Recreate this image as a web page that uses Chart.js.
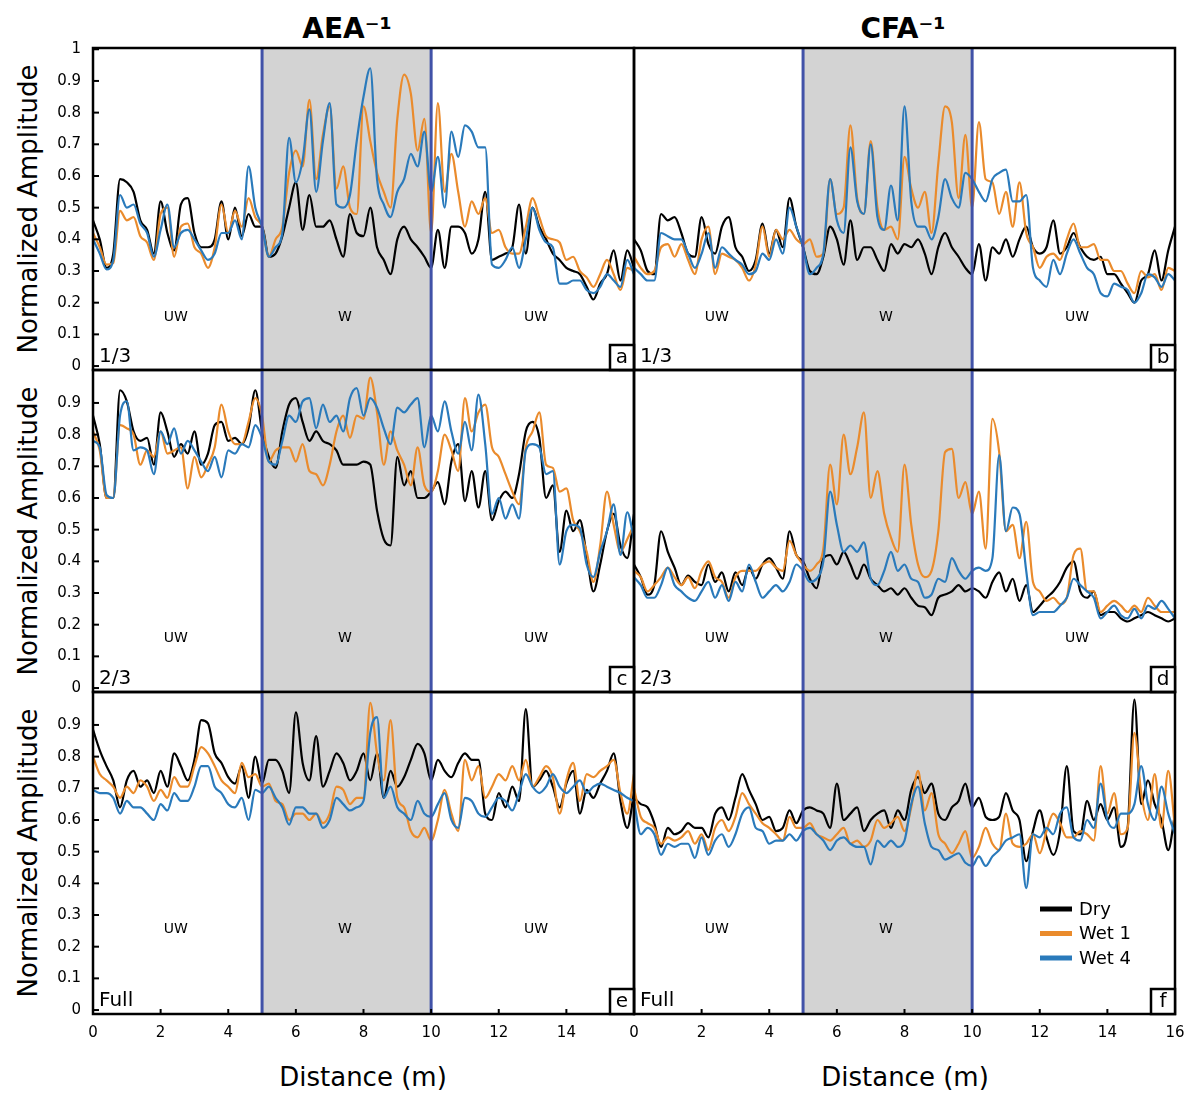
<!DOCTYPE html>
<html><head><meta charset="utf-8">
<script src="https://cdn.jsdelivr.net/npm/chart.js@4.4.1/dist/chart.umd.min.js"></script>
<style>
body{margin:0;background:#fff;width:1195px;height:1094px;position:relative;overflow:hidden;font-family:'DejaVu Sans',Verdana,sans-serif;}
canvas{position:absolute;}
.t{position:absolute;white-space:nowrap;color:#000;transform:translate(-50%,-50%);}
.r{transform:translate(-50%,-50%) rotate(-90deg);}
</style></head><body>
<div class="t" style="left:347px;top:28px;font-size:28px;font-weight:bold;">AEA⁻¹</div>
<div class="t" style="left:903px;top:28px;font-size:28px;font-weight:bold;">CFA⁻¹</div>
<div class="t" style="left:363px;top:1077px;font-size:26px;">Distance (m)</div>
<div class="t" style="left:905px;top:1077px;font-size:26px;">Distance (m)</div>
<div class="t r" style="left:28px;top:209px;font-size:26px;">Normalized Amplitude</div>
<div class="t r" style="left:28px;top:531px;font-size:26px;">Normalized Amplitude</div>
<div class="t r" style="left:28px;top:853px;font-size:26px;">Normalized Amplitude</div>
<canvas id="pa"></canvas><canvas id="pb"></canvas>
<canvas id="pc"></canvas><canvas id="pd"></canvas>
<canvas id="pe"></canvas><canvas id="pf"></canvas>
<script>
// ---------- data ----------
const distance = [0,0.2,0.4,0.6,0.8,1,1.2,1.4,1.6,1.8,2,2.2,2.4,2.6,2.8,3,3.2,3.4,3.6,3.8,4,4.2,4.4,4.6,4.8,5,5.2,5.4,5.6,5.8,6,6.2,6.4,6.6,6.8,7,7.2,7.4,7.6,7.8,8,8.2,8.4,8.6,8.8,9,9.2,9.4,9.6,9.8,10,10.2,10.4,10.6,10.8,11,11.2,11.4,11.6,11.8,12,12.2,12.4,12.6,12.8,13,13.2,13.4,13.6,13.8,14,14.2,14.4,14.6,14.8,15,15.2,15.4,15.6,15.8,16];
const seriesNames = ['Dry','Wet 1','Wet 4'];
const columnTitles = ['AEA⁻¹','CFA⁻¹'];
const rowLabels = ['1/3','2/3','Full'];
const panelLetters = ['a','b','c','d','e','f'];
const weightedZone = [5,10];
const zoneLabels = ['UW','W','UW'];
const zoneCenters = [2.45,7.45,13.1];
const xTicksLeft = [0,2,4,6,8,10,12,14];
const xTicksRight = [0,2,4,6,8,10,12,14,16];
const yTicksTop = [0,0.1,0.2,0.3,0.4,0.5,0.6,0.7,0.8,0.9,1];
const yTicksLower = [0,0.1,0.2,0.3,0.4,0.5,0.6,0.7,0.8,0.9];

const aeaThirdDry = [0.46,0.40,0.31,0.355,0.59,0.58,0.55,0.46,0.43,0.355,0.52,0.42,0.365,0.51,0.53,0.42,0.375,0.375,0.40,0.52,0.40,0.50,0.41,0.48,0.44,0.44,0.345,0.355,0.41,0.50,0.58,0.43,0.54,0.44,0.44,0.46,0.40,0.345,0.48,0.42,0.41,0.50,0.375,0.335,0.29,0.40,0.44,0.40,0.375,0.345,0.31,0.43,0.31,0.44,0.44,0.42,0.355,0.40,0.55,0.335,0.345,0.355,0.375,0.51,0.355,0.50,0.44,0.40,0.355,0.335,0.31,0.30,0.29,0.25,0.21,0.26,0.29,0.365,0.27,0.365,0.31];
const aeaThirdWet1 = [0.42,0.375,0.32,0.325,0.49,0.46,0.47,0.41,0.39,0.335,0.48,0.50,0.345,0.44,0.45,0.375,0.355,0.31,0.375,0.51,0.42,0.49,0.44,0.53,0.47,0.44,0.345,0.40,0.44,0.61,0.68,0.63,0.84,0.59,0.73,0.82,0.56,0.63,0.50,0.48,0.82,0.71,0.61,0.55,0.50,0.78,0.92,0.86,0.68,0.78,0.42,0.83,0.55,0.67,0.55,0.44,0.52,0.48,0.53,0.42,0.43,0.375,0.355,0.355,0.44,0.53,0.47,0.41,0.40,0.39,0.335,0.345,0.30,0.28,0.25,0.29,0.335,0.29,0.24,0.31,0.30];
const aeaThirdWet4 = [0.40,0.355,0.305,0.335,0.54,0.50,0.51,0.45,0.42,0.345,0.43,0.51,0.375,0.42,0.43,0.40,0.365,0.335,0.355,0.42,0.42,0.46,0.40,0.63,0.50,0.44,0.345,0.375,0.42,0.72,0.58,0.65,0.81,0.55,0.71,0.83,0.51,0.50,0.54,0.71,0.85,0.94,0.59,0.51,0.47,0.55,0.59,0.67,0.63,0.74,0.55,0.66,0.50,0.74,0.66,0.76,0.74,0.69,0.69,0.32,0.31,0.335,0.375,0.31,0.40,0.50,0.43,0.39,0.375,0.26,0.26,0.27,0.27,0.24,0.23,0.25,0.29,0.27,0.25,0.335,0.29];

const cfaThirdDry = [0.40,0.365,0.30,0.29,0.48,0.46,0.47,0.42,0.355,0.345,0.47,0.385,0.355,0.44,0.47,0.375,0.345,0.30,0.335,0.45,0.355,0.43,0.375,0.53,0.44,0.375,0.30,0.29,0.345,0.44,0.40,0.32,0.46,0.335,0.375,0.375,0.335,0.30,0.385,0.355,0.385,0.375,0.40,0.355,0.29,0.375,0.42,0.375,0.345,0.31,0.29,0.385,0.27,0.375,0.355,0.40,0.345,0.40,0.44,0.375,0.355,0.375,0.46,0.355,0.375,0.42,0.375,0.345,0.335,0.345,0.29,0.29,0.26,0.23,0.20,0.27,0.29,0.365,0.27,0.365,0.44];
const cfaThirdWet1 = [0.345,0.31,0.29,0.30,0.375,0.385,0.345,0.385,0.335,0.29,0.40,0.44,0.29,0.355,0.345,0.335,0.31,0.27,0.32,0.44,0.345,0.43,0.40,0.43,0.40,0.385,0.40,0.345,0.355,0.59,0.48,0.50,0.76,0.53,0.48,0.71,0.50,0.43,0.44,0.40,0.66,0.56,0.50,0.55,0.42,0.64,0.82,0.77,0.53,0.73,0.50,0.77,0.59,0.58,0.48,0.55,0.44,0.58,0.42,0.375,0.31,0.345,0.355,0.335,0.40,0.45,0.375,0.375,0.385,0.335,0.335,0.30,0.30,0.26,0.23,0.30,0.28,0.29,0.24,0.31,0.30];
const cfaThirdWet4 = [0.31,0.29,0.27,0.27,0.42,0.41,0.40,0.40,0.355,0.31,0.355,0.42,0.31,0.375,0.355,0.335,0.32,0.29,0.30,0.355,0.335,0.40,0.355,0.50,0.44,0.375,0.29,0.31,0.355,0.59,0.46,0.42,0.69,0.52,0.48,0.70,0.47,0.43,0.57,0.46,0.82,0.52,0.44,0.44,0.40,0.47,0.59,0.53,0.50,0.61,0.59,0.55,0.52,0.59,0.61,0.62,0.52,0.52,0.54,0.31,0.27,0.25,0.335,0.29,0.355,0.40,0.355,0.31,0.29,0.23,0.22,0.26,0.25,0.24,0.20,0.23,0.29,0.28,0.25,0.29,0.27];

const aeaTwoThirdsDry = [0.86,0.77,0.60,0.60,0.94,0.905,0.81,0.78,0.79,0.705,0.87,0.81,0.73,0.77,0.74,0.81,0.705,0.74,0.83,0.84,0.78,0.79,0.77,0.82,0.94,0.81,0.73,0.695,0.81,0.895,0.915,0.84,0.78,0.81,0.78,0.77,0.75,0.705,0.705,0.705,0.715,0.705,0.56,0.47,0.45,0.73,0.64,0.685,0.60,0.60,0.62,0.65,0.58,0.715,0.77,0.59,0.685,0.57,0.685,0.53,0.59,0.62,0.60,0.675,0.81,0.84,0.79,0.60,0.64,0.43,0.56,0.495,0.53,0.42,0.305,0.39,0.495,0.55,0.45,0.41,0.55];
const aeaTwoThirdsWet1 = [0.81,0.75,0.60,0.60,0.83,0.82,0.80,0.705,0.75,0.73,0.81,0.74,0.75,0.76,0.63,0.73,0.665,0.705,0.76,0.895,0.81,0.77,0.77,0.84,0.915,0.86,0.715,0.75,0.76,0.76,0.715,0.77,0.685,0.675,0.64,0.705,0.81,0.86,0.79,0.86,0.85,0.98,0.87,0.705,0.81,0.75,0.705,0.64,0.76,0.64,0.62,0.685,0.80,0.75,0.685,0.915,0.81,0.87,0.895,0.76,0.73,0.675,0.62,0.58,0.76,0.81,0.87,0.705,0.695,0.62,0.63,0.53,0.495,0.43,0.335,0.45,0.62,0.515,0.43,0.47,0.515];
const aeaTwoThirdsWet4 = [0.78,0.76,0.61,0.60,0.86,0.905,0.75,0.76,0.75,0.675,0.81,0.77,0.82,0.74,0.78,0.75,0.715,0.685,0.73,0.665,0.75,0.74,0.77,0.76,0.83,0.79,0.715,0.705,0.78,0.86,0.84,0.905,0.915,0.82,0.895,0.84,0.86,0.81,0.915,0.947,0.86,0.915,0.885,0.82,0.77,0.885,0.87,0.895,0.915,0.76,0.86,0.81,0.905,0.81,0.74,0.84,0.75,0.926,0.77,0.55,0.60,0.535,0.58,0.535,0.75,0.77,0.76,0.675,0.685,0.39,0.495,0.515,0.505,0.39,0.35,0.43,0.495,0.58,0.42,0.555,0.47];

const cfaTwoThirdsDry = [0.39,0.35,0.295,0.325,0.495,0.43,0.38,0.325,0.355,0.335,0.325,0.39,0.335,0.365,0.305,0.365,0.325,0.38,0.345,0.39,0.41,0.38,0.345,0.495,0.42,0.40,0.345,0.315,0.41,0.42,0.39,0.43,0.39,0.345,0.39,0.345,0.325,0.305,0.315,0.295,0.315,0.285,0.26,0.255,0.23,0.285,0.295,0.305,0.325,0.305,0.315,0.305,0.285,0.335,0.365,0.305,0.345,0.275,0.325,0.24,0.26,0.285,0.305,0.335,0.38,0.40,0.305,0.285,0.305,0.23,0.24,0.24,0.22,0.21,0.22,0.23,0.24,0.23,0.22,0.21,0.22];
const cfaTwoThirdsWet1 = [0.37,0.35,0.305,0.325,0.35,0.38,0.35,0.325,0.35,0.315,0.37,0.40,0.35,0.335,0.285,0.35,0.37,0.37,0.37,0.39,0.40,0.38,0.37,0.465,0.42,0.39,0.37,0.39,0.44,0.705,0.58,0.80,0.675,0.76,0.87,0.60,0.685,0.55,0.475,0.43,0.705,0.515,0.39,0.35,0.37,0.495,0.745,0.755,0.60,0.65,0.55,0.62,0.44,0.85,0.745,0.495,0.515,0.41,0.525,0.335,0.305,0.275,0.285,0.265,0.285,0.42,0.44,0.305,0.305,0.24,0.26,0.275,0.26,0.24,0.26,0.24,0.285,0.26,0.24,0.24,0.24];
const cfaTwoThirdsWet4 = [0.35,0.325,0.285,0.285,0.325,0.38,0.325,0.305,0.285,0.275,0.305,0.335,0.285,0.325,0.275,0.335,0.305,0.39,0.335,0.285,0.305,0.325,0.305,0.335,0.39,0.37,0.335,0.345,0.40,0.62,0.515,0.43,0.45,0.43,0.46,0.345,0.325,0.37,0.43,0.37,0.39,0.345,0.335,0.285,0.295,0.345,0.335,0.41,0.37,0.345,0.37,0.38,0.37,0.41,0.735,0.495,0.57,0.55,0.37,0.23,0.24,0.24,0.24,0.26,0.285,0.345,0.325,0.305,0.285,0.22,0.24,0.26,0.23,0.22,0.25,0.22,0.26,0.25,0.275,0.25,0.22];

const aeaFullDry = [0.885,0.82,0.77,0.725,0.64,0.725,0.755,0.705,0.725,0.685,0.755,0.705,0.81,0.77,0.725,0.79,0.915,0.905,0.81,0.78,0.735,0.715,0.77,0.67,0.80,0.715,0.79,0.79,0.755,0.685,0.94,0.78,0.725,0.865,0.705,0.755,0.81,0.78,0.725,0.755,0.81,0.725,0.81,0.67,0.755,0.705,0.735,0.79,0.84,0.81,0.725,0.79,0.755,0.735,0.78,0.81,0.79,0.79,0.62,0.60,0.685,0.64,0.705,0.66,0.95,0.705,0.725,0.755,0.705,0.64,0.715,0.755,0.62,0.695,0.67,0.715,0.755,0.81,0.66,0.575,0.685];
const aeaFullWet1 = [0.80,0.745,0.725,0.705,0.67,0.705,0.685,0.725,0.705,0.66,0.695,0.67,0.735,0.705,0.705,0.77,0.83,0.81,0.77,0.725,0.705,0.685,0.78,0.735,0.745,0.705,0.715,0.66,0.65,0.60,0.62,0.62,0.60,0.62,0.59,0.62,0.705,0.695,0.65,0.67,0.67,0.97,0.81,0.725,0.915,0.67,0.64,0.565,0.545,0.575,0.535,0.60,0.695,0.62,0.565,0.79,0.725,0.77,0.67,0.705,0.745,0.725,0.77,0.725,0.79,0.705,0.735,0.77,0.735,0.62,0.725,0.78,0.66,0.745,0.735,0.755,0.77,0.79,0.685,0.62,0.745];
const aeaFullWet4 = [0.695,0.685,0.685,0.67,0.62,0.66,0.64,0.64,0.62,0.60,0.65,0.63,0.685,0.66,0.66,0.705,0.77,0.77,0.705,0.685,0.65,0.64,0.67,0.60,0.695,0.685,0.705,0.67,0.64,0.585,0.64,0.64,0.62,0.62,0.575,0.60,0.67,0.65,0.63,0.64,0.66,0.875,0.925,0.67,0.705,0.64,0.62,0.60,0.66,0.62,0.61,0.65,0.685,0.60,0.575,0.67,0.66,0.62,0.61,0.64,0.67,0.66,0.63,0.685,0.745,0.705,0.685,0.705,0.745,0.705,0.685,0.705,0.725,0.685,0.705,0.715,0.705,0.695,0.685,0.67,0.66];

const cfaFullDry = [0.67,0.65,0.64,0.59,0.515,0.575,0.555,0.565,0.59,0.575,0.575,0.545,0.62,0.64,0.60,0.67,0.745,0.695,0.65,0.60,0.61,0.565,0.575,0.63,0.59,0.63,0.64,0.63,0.62,0.575,0.715,0.60,0.62,0.64,0.565,0.60,0.62,0.63,0.575,0.63,0.60,0.695,0.735,0.685,0.715,0.62,0.60,0.64,0.66,0.715,0.64,0.67,0.61,0.60,0.61,0.685,0.63,0.60,0.47,0.565,0.63,0.545,0.49,0.565,0.77,0.565,0.555,0.66,0.60,0.65,0.60,0.64,0.515,0.575,0.98,0.65,0.725,0.65,0.60,0.505,0.62];
const cfaFullWet1 = [0.70,0.61,0.59,0.575,0.525,0.545,0.535,0.545,0.565,0.525,0.555,0.505,0.575,0.60,0.565,0.61,0.685,0.65,0.62,0.59,0.575,0.555,0.535,0.61,0.575,0.575,0.59,0.555,0.545,0.535,0.555,0.575,0.525,0.535,0.515,0.535,0.60,0.575,0.59,0.61,0.565,0.64,0.755,0.63,0.685,0.555,0.525,0.495,0.525,0.565,0.48,0.515,0.575,0.525,0.505,0.62,0.525,0.515,0.525,0.555,0.495,0.565,0.62,0.59,0.545,0.545,0.565,0.555,0.535,0.77,0.62,0.685,0.555,0.575,0.875,0.685,0.60,0.745,0.575,0.755,0.575];
const cfaFullWet4 = [0.66,0.555,0.575,0.555,0.49,0.525,0.515,0.525,0.525,0.48,0.545,0.49,0.535,0.555,0.515,0.555,0.62,0.64,0.575,0.565,0.525,0.535,0.535,0.555,0.535,0.565,0.575,0.555,0.535,0.505,0.535,0.545,0.525,0.515,0.515,0.46,0.535,0.515,0.535,0.515,0.535,0.65,0.705,0.59,0.515,0.505,0.475,0.485,0.495,0.465,0.455,0.485,0.455,0.485,0.505,0.535,0.545,0.555,0.385,0.555,0.545,0.575,0.555,0.62,0.64,0.545,0.535,0.60,0.575,0.715,0.60,0.575,0.62,0.62,0.65,0.77,0.65,0.60,0.705,0.62,0.555];

// ---------- styles ----------
const seriesColors = ['#000000','#ea8b2c','#2a7abb'];
const FONT = "'DejaVu Sans', Verdana, sans-serif";

const panels = [
  {id:'pa', row:0, col:0, series:[aeaThirdDry, aeaThirdWet1, aeaThirdWet4]},
  {id:'pb', row:0, col:1, series:[cfaThirdDry, cfaThirdWet1, cfaThirdWet4]},
  {id:'pc', row:1, col:0, series:[aeaTwoThirdsDry, aeaTwoThirdsWet1, aeaTwoThirdsWet4]},
  {id:'pd', row:1, col:1, series:[cfaTwoThirdsDry, cfaTwoThirdsWet1, cfaTwoThirdsWet4]},
  {id:'pe', row:2, col:0, series:[aeaFullDry, aeaFullWet1, aeaFullWet4]},
  {id:'pf', row:2, col:1, series:[cfaFullDry, cfaFullWet1, cfaFullWet4]}
];

const frameTop = [48, 370, 692];
const frameLeft = [93, 634];
const FRAME_W = 541, FRAME_H = 322;
const zoneLabelY = [0.155, 0.158, 0.255];

const decor = {
  id: 'decor',
  beforeDatasetsDraw(chart) {
    const o = chart.options.plugins.decor;
    const {ctx, chartArea: a, scales: {x, y}} = chart;
    const x0 = x.getPixelForValue(weightedZone[0]), x1 = x.getPixelForValue(weightedZone[1]);
    ctx.save();
    ctx.fillStyle = '#d3d3d3';
    ctx.fillRect(x0, a.top, x1 - x0, a.bottom - a.top);
    ctx.fillStyle = '#000';
    ctx.font = '14px ' + FONT;
    ctx.textAlign = 'center'; ctx.textBaseline = 'middle';
    zoneLabels.forEach((t, i) => ctx.fillText(t, x.getPixelForValue(zoneCenters[i]), y.getPixelForValue(zoneLabelY[o.row])));
    ctx.restore();
  },
  afterDatasetsDraw(chart) {
    const o = chart.options.plugins.decor;
    const {ctx, chartArea: a, scales: {x, y}} = chart;
    ctx.save();
    ctx.strokeStyle = '#4152a8'; ctx.lineWidth = 3;
    weightedZone.forEach(v => {
      const px = x.getPixelForValue(v);
      ctx.beginPath(); ctx.moveTo(px, a.top); ctx.lineTo(px, a.bottom); ctx.stroke();
    });
    ctx.strokeStyle = '#000'; ctx.lineWidth = 2;
    if (o.col === 0) {
      y.ticks.forEach(t => {
        const py = y.getPixelForValue(t.value);
        ctx.beginPath(); ctx.moveTo(a.left, py); ctx.lineTo(a.left + 6, py); ctx.stroke();
      });
    }
    if (o.row === 2) {
      x.ticks.forEach(t => {
        const px = x.getPixelForValue(t.value);
        ctx.beginPath(); ctx.moveTo(px, a.bottom); ctx.lineTo(px, a.bottom - 5); ctx.stroke();
      });
    }
    ctx.lineWidth = 2.5;
    ctx.strokeRect(a.left, a.top, a.right - a.left, a.bottom - a.top);
    ctx.fillStyle = '#000';
    ctx.font = '20px ' + FONT;
    ctx.textAlign = 'left'; ctx.textBaseline = 'alphabetic';
    ctx.fillText(rowLabels[o.row], a.left + 6, a.bottom - 8);
    const bw = 24, bh = 25;
    ctx.fillStyle = '#fff';
    ctx.fillRect(a.right - bw, a.bottom - bh, bw, bh);
    ctx.strokeRect(a.right - bw, a.bottom - bh, bw, bh);
    ctx.fillStyle = '#000';
    ctx.textAlign = 'center'; ctx.textBaseline = 'middle';
    ctx.fillText(panelLetters[o.index], a.right - bw / 2, a.bottom - bh / 2);
    if (o.legend) {
      ctx.fillStyle = '#fff';
      ctx.fillRect(a.left + 400, a.top + 203, 115, 78);
      ctx.font = '18px ' + FONT; ctx.textAlign = 'left';
      seriesNames.forEach((n, i) => {
        const ly = a.top + 217 + i * 24.5;
        ctx.strokeStyle = seriesColors[i]; ctx.lineWidth = 5;
        ctx.beginPath(); ctx.moveTo(a.left + 406, ly); ctx.lineTo(a.left + 438, ly); ctx.stroke();
        ctx.fillStyle = '#000';
        ctx.fillText(n, a.left + 445, ly + 1);
      });
    }
    ctx.restore();
  }
};

function zeroPad(s) { s.paddingTop = 0; s.paddingBottom = 0; s.paddingLeft = 0; s.paddingRight = 0; }

panels.forEach((p, idx) => {
  const cv = document.getElementById(p.id);
  const padTop = 12;
  const padL = p.col === 0 ? 0 : 12;
  const padR = 16;
  const yAxisW = p.col === 0 ? 73 : 0;
  const xAxisH = p.row === 2 ? 45 : 0;
  const padBottom = p.row === 2 ? 0 : 2;
  const left = frameLeft[p.col] - yAxisW - padL;
  const top = frameTop[p.row] - padTop;
  const w = padL + yAxisW + FRAME_W + padR;
  const h = padTop + FRAME_H + xAxisH + padBottom;
  cv.width = w; cv.height = h;
  cv.style.left = left + 'px'; cv.style.top = top + 'px';
  cv.style.width = w + 'px'; cv.style.height = h + 'px';
  const yTickVals = p.row === 0 ? yTicksTop : yTicksLower;
  const xTickVals = p.col === 0 ? xTicksLeft : xTicksRight;
  new Chart(cv, {
    type: 'line',
    data: {
      datasets: p.series.map((vals, i) => ({
        label: seriesNames[i],
        data: distance.map((d, k) => ({x: d, y: vals[k]})),
        borderColor: seriesColors[i],
        borderWidth: 2.2,
        pointRadius: 0,
        cubicInterpolationMode: 'monotone',
        fill: false,
        order: 3 - i
      }))
    },
    options: {
      responsive: false,
      animation: false,
      devicePixelRatio: 1,
      layout: {padding: {top: padTop, bottom: padBottom, left: padL, right: padR}},
      plugins: {
        legend: {display: false},
        tooltip: {enabled: false},
        decor: {row: p.row, col: p.col, index: idx, legend: idx === 5}
      },
      scales: {
        x: {
          type: 'linear', min: 0, max: 16,
          display: p.row === 2,
          grid: {display: false, drawTicks: false},
          border: {display: false},
          afterBuildTicks: s => { s.ticks = xTickVals.map(v => ({value: v})); },
          afterFit: s => { s.height = xAxisH; zeroPad(s); },
          ticks: {color: '#000', font: {family: FONT, size: 15}, padding: 10, maxRotation: 0, autoSkip: false,
                  callback: v => String(v)}
        },
        y: {
          type: 'linear', min: -0.0125, max: 1.004,
          display: p.col === 0,
          grid: {display: false, drawTicks: false},
          border: {display: false},
          afterBuildTicks: s => { s.ticks = yTickVals.map(v => ({value: v})); },
          afterFit: s => { s.width = yAxisW; zeroPad(s); },
          ticks: {color: '#000', font: {family: FONT, size: 15}, padding: 12,
                  callback: v => String(+Number(v).toFixed(1))}
        }
      }
    },
    plugins: [decor]
  });
});
</script>
</body></html>
